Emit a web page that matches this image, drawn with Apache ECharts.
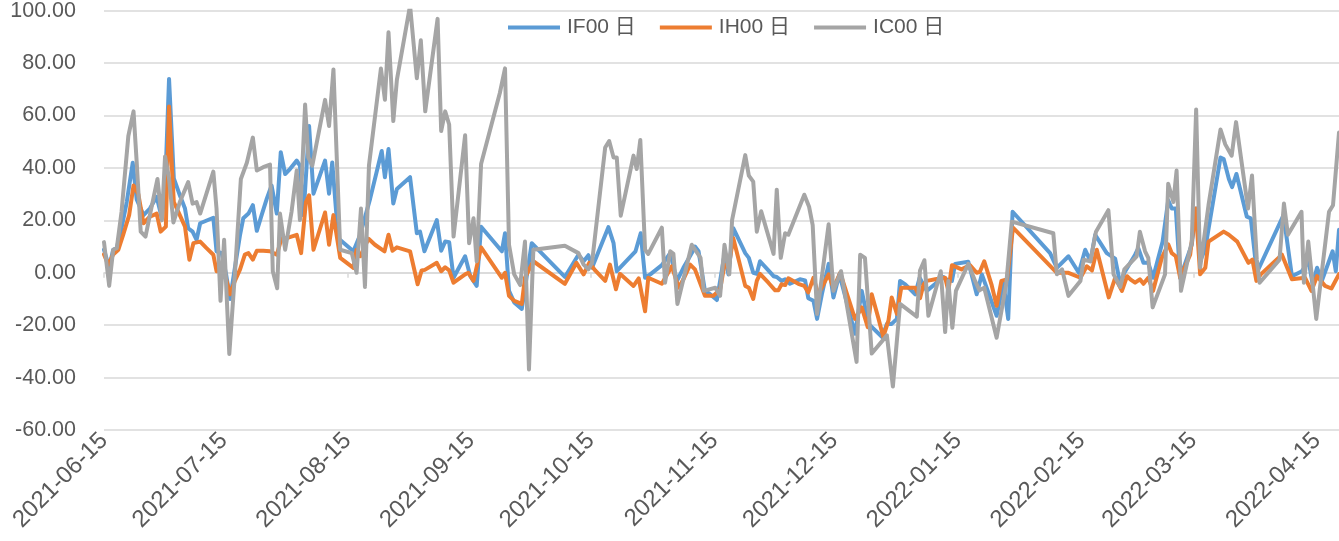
<!DOCTYPE html>
<html>
<head>
<meta charset="utf-8">
<script src="https://cdn.jsdelivr.net/npm/echarts@6/dist/echarts.min.js"></script>
<style>
html,body{margin:0;padding:0;background:#fff;}
#chart{width:1339px;height:541px;}
</style>
</head>
<body>
<div id="chart"></div>
<script>
// Start date of the axis; day offsets below are days since this date
const startDate = [2021, 5, 15];
const endOffset = 309.5;
const seriesNames = ['IF00 日', 'IH00 日', 'IC00 日'];
const tickMonths = [[2021,5],[2021,6],[2021,7],[2021,8],[2021,9],[2021,10],[2021,11],[2022,0],[2022,1],[2022,2],[2022,3]];
const yTicks = [-60, -40, -20, 0, 20, 40, 60, 80, 100];

const ifDays = [0,1.3,2.3,3.2,4.4,5.7,7.2,8.2,9.9,11.5,13.2,14.5,15.3,16.3,17,17.5,19,20.3,21.1,22.2,23.2,24.1,27.4,28.2,29.5,30.6,31.6,32.8,34.1,34.9,36.2,37.3,38.3,39.5,40.8,42,43.3,44.3,45.4,46.6,48.3,49.1,50,51.4,
52.5,55.4,56.4,57.2,58.7,62.5,64.2,66.7,69.6,70.4,71.3,72.5,73.4,76.7,78.4,79.2,80.3,83.4,84.5,85.5,86.5,87.6,90.5,91.8,93.4,94.5,99.7,100.5,101.5,102.8,
104.7,107.2,115.5,118.9,120.2,121.4,122.3,126.4,127.7,128.5,133.2,134.5,135.6,136.9,139.8,141.9,143.6,145.2,147.3,148.1,149,150.6,151.9,153.6,
155.5,156.5,157.7,160.7,161.6,162.7,163.6,164.4,166.5,167.8,168.6,169.8,170.7,171.9,174.4,175.7,176.5,177.8,178.7,179.9,181.6,182.8,184.3,188.2,189.9,191.6,195,196.2,197.4,198.7,199.5,200.8,203.3,204.4,
206.2,208.2,210.3,211.1,212.5,213.3,216.6,218.7,220,223.7,225.4,226.6,227.7,237.1,238.8,241.7,244.3,245.9,247.2,248.4,251.3,253.4,254.7,255.7,257.2,
258.4,259.2,260.5,261.7,262.9,265.3,266.7,267.6,268.6,269.7,272.6,273.7,274.7,276,279.8,280.6,281.9,282.7,283.8,286.4,287.4,288.9,295.6,297.7,300.2,301.9,302.9,304,305.2,307.9,308.7,309.5];
const ifValues = [8.8,2,8.8,9.4,17,27,42,28,22,24.5,29,20.8,32,74,52,36,29.6,24.5,17,15.7,12.6,18.9,21,8.2,7.5,-0.6,-10,1.9,14.5,20.8,22.6,25.8,16,22,28.3,33.3,22.6,46,37.7,39.6,42.8,40.9,22,56,
30.2,42.8,30.2,42.1,13.2,8.2,14.5,28.3,46.5,36.5,47.2,26.4,32,36.5,15.1,15.7,8.2,20.1,8.4,11.9,11.7,-1.9,6.3,-1.3,-5,17.6,8.2,15.1,-6.9,-11.3,
-13.8,11.3,-1.6,6.9,4.4,6.7,1.9,17.4,11.3,0.6,8.2,15.1,-1.9,-0.6,2.9,7.5,-3.1,1.9,7.5,10,8.2,-6.9,-8.2,-10.4,
6.9,-0.6,17,7.5,5.7,0,-0.4,4.4,0.9,-1.3,-1.6,-3.1,-2.5,-4.2,-2.5,-2.9,-9.7,-10.7,-17.6,-8.2,3.4,-9.4,-0.6,-23.3,-6.9,-19.5,-24.5,-19.5,-19.5,-17.6,-3.1,-4.4,-8.2,-1.9,
-6.9,-4.4,-1.6,-2.5,-3.1,3.4,4.2,-8.2,-0.6,-16.4,-3.8,-17.6,23.3,7.5,1.9,6.3,0,8.8,4.4,14.5,7.5,5.4,-4.4,0,3.8,
6.9,9.4,3.8,3.8,-1.9,11.9,27.7,24.5,24.5,-1.9,10.7,24.5,4.4,9.4,44,43.4,35.8,32.7,37.7,21.4,20.8,0,22,-1.3,0.6,4.4,-4.4,1.9,-3.1,8.2,0.6,16.4];

const ihDays = [0,1.1,2.3,3.6,4.8,6.3,7.4,8.6,9.9,11.5,13.2,14.2,15.5,16.3,17,17.5,19,20.3,21.4,22.4,24.1,25.7,27.4,28.2,29.5,30.6,31.6,32.8,34.1,35.3,36.2,37.3,38.3,39.9,41.6,43.3,44.5,45.8,48.3,49.4,50.6,51.4,
52.5,55.4,56.4,57.5,59.2,62.5,63.3,64.2,66.3,67.9,70.3,71.3,72.3,73.4,76.7,78.6,79.6,80.4,83.4,84.5,85.5,86.5,87.6,90.5,91.3,92.6,94.5,99.7,100.5,101.5,102.8,
104.7,105.5,107.6,115.5,118.4,120.2,121.6,123.1,125.6,126.8,128.3,129.3,132.7,134,135.6,136.4,139.8,142.3,144,145.2,146.9,148.1,150.6,152.7,
154.4,155.5,156.5,157.7,160.7,161.6,162.7,163.6,164.4,166.5,168.2,169,169.8,170.7,171.5,174,175.5,176.5,177.8,179,181.6,182.8,184.5,188.2,189.9,191.4,192.4,194,195.3,196.6,197.4,198.7,199.8,203.3,204.5,
205.4,206.2,208.3,210.8,211.6,212.5,214.9,217,218.7,219.5,220.6,222.4,223.7,224.9,226.3,227.8,238.8,241.7,244.7,246.3,247.6,248.8,251.8,253.4,255.1,256.4,257.2,
258.4,259.6,260.5,261.7,262.9,265.1,266.7,267.6,268.6,269.7,272.2,273.6,274.7,276,276.8,280.6,281.9,284,286.8,287.8,288.8,289.9,295.2,297.7,301,302.6,304,306,307.6,309.5];
const ihValues = [7,3,7,8.8,14.5,22,33.3,30,18.9,21.4,22.6,15.7,17.6,63.5,40.9,27,22,17.6,5,11.3,11.9,9.4,6.9,0.6,1.9,-2.5,-8.2,-3.1,1.3,6.9,7.5,5,8.4,8.4,8.2,6.9,13.2,13.2,14.5,7.5,27,29.6,
8.8,23,10.7,22,5.7,1.9,8.8,6.3,13,10.7,8.2,14.5,8.4,9.7,8.2,-4.4,0.9,1.1,3.8,0.6,2.1,0.9,-3.8,-0.6,0,-3.1,9.7,-1.9,0,-8.8,-10.7,
-11.9,-1.9,4.4,-4.2,3.8,-0.6,3.8,0.9,-3.1,3.1,-6.3,-0.4,-5,-2.1,-14.7,-1.9,-4.2,2.5,-5.7,-2.5,3.1,1.3,-8.8,-8.8,
-6.3,3.1,1.9,13.2,-5,-5.7,-10,-3.1,-0.4,-3.8,-6.7,-6.7,-4.4,-4.7,-2.1,-4.2,-5,-7.5,-1.9,-8.2,-0.6,-5.7,0,-17.6,-13.2,-20.8,-8.2,-17,-24.5,-18.2,-9.4,-15.7,-5.7,-5.7,-9.7,
-4.4,-3.1,-2.5,-1.9,-6.9,2.9,1.3,2.9,0,0.4,4.4,-4.4,-12.6,-3.1,-2.5,17.2,0,0,-1.9,2.5,0.9,8.8,-9.4,-1.9,-6.9,-1.3,-2.5,
-3.8,-2.5,-4.2,-1.9,-6.9,5.7,10.9,7.5,6.3,-1.9,6.9,24.5,-0.6,1.9,11.9,15.7,14.5,11.9,3.8,5,-3.1,-0.6,6.9,-2.5,-1.9,-6.9,-1.3,-5,-6,-0.5];

const icDays = [0,1.3,2.3,3.2,4.4,6.1,7.4,8.2,9.2,10.4,11.5,13.4,14.5,15.3,16.3,17.4,19,21.1,22.2,23.2,24.1,27.4,28.2,29.2,30.1,31.4,32.8,34.3,35.8,37.3,38.3,39.9,41.6,42.3,43.4,44.1,45.4,47,48.3,49.1,50.4,
51.2,52.2,55.4,56.4,57.5,59.2,62.1,63.3,64.4,65.4,66.4,69.4,70.4,71.3,72.5,73.4,76.7,78.4,79.4,80.5,83.6,84.5,85.5,86.5,87.6,90.5,91.5,92.6,93.4,94.5,99.2,100.5,101.5,102.8,
104.3,105.5,106.5,107.6,115.5,118.9,120.2,121.4,122.3,125.6,126.6,127.7,128.5,129.5,132.7,133.5,134.4,135.6,136.4,139.8,140.6,141.9,142.7,143.7,147.3,149.5,150.3,153.2,
154.4,155.5,156.7,157.4,160.7,161.6,162.7,163.6,164.7,167.8,168.6,169.6,170.7,171.5,175.5,176.7,177.6,178.7,181.6,182.8,184.7,188.6,189.5,190.7,192.4,196.2,197.7,199.5,203.7,204.5,205.6,
206.6,209.7,210.8,211.6,212.6,213.5,216.6,218.3,219.4,220.6,223.7,226.1,227.5,237.9,238.8,240.1,241.7,244.7,245.5,247.2,248.6,251.7,253,254.7,255.7,
258.8,259.6,260.9,261.7,262.8,265.9,266.7,268,268.8,269.9,272.6,273.7,274.7,276.8,279.8,281,282.6,283.7,286.7,287.7,288.9,289.6,294.6,295.7,296.7,300.1,300.7,301.8,303.8,307,308,309.5];
const icValues = [11.7,-5,8.8,9.4,23.3,52.2,61.6,42,15.7,13.8,22,35.8,20,44.4,36,19.2,27,34.6,26.4,27,22.6,38.6,24.5,-10.7,12.6,-31,-0.6,35.8,42,51.6,39,40.3,41.3,0.6,-5.9,22.6,8.8,23.3,39,20.1,64.2,
44,40.9,66,56,77.6,8.8,7.5,0,24.5,-5.4,40.9,78,66,91.8,57.9,73.6,102,74.2,88.7,61.6,96.9,54.1,61.6,56.6,13.8,52.5,11.3,20.8,4.4,41.5,68.6,78,10.7,-0.6,
-4.7,11.9,-36.9,8.8,10.3,7.5,3.1,1.3,3.8,47.8,50.3,44,44,21.8,44.7,39.6,50.7,8.8,7.2,17.2,-3.8,8.2,7.2,-11.9,10.7,5.7,-6.9,-5.7,
-8.8,10.7,-0.6,20.1,44.9,37.1,34.8,15.7,23.5,7.2,31.7,5.7,15.1,14.5,29.8,25.2,18.2,-15.7,18.5,-6.9,0.6,-34,6.9,5.7,-30.8,-23.9,-43.4,-11.9,-16.7,0.9,4.8,
-16.4,0.6,-22.6,-3.1,-21,-6.9,3.4,-3.1,-6.7,-5.7,-24.8,-4.4,19.5,15.1,-0.6,1.3,-8.8,-3.1,5,4.4,15.7,23.9,-0.6,-5.4,1.3,
6.3,15.7,8.2,5.7,-13.2,-0.6,34,27,39,-6.9,11.9,62.3,1.9,25.8,54.7,49,44.7,57.5,24.5,37.1,5,-3.8,5,26.4,14.5,23.3,-3.8,11.9,-17.6,23.3,25.8,53.5];

const DAY = 86400000;
const t0 = new Date(startDate[0], startDate[1], startDate[2]).getTime();
const toPairs = (days, vals) => days.map((d, i) => [t0 + d * DAY, vals[i]]);
const tickValues = tickMonths.map(m => new Date(m[0], m[1], 15).getTime());
const pad = n => (n < 10 ? '0' : '') + n;
const fmtDate = v => { const d = new Date(v); return d.getFullYear() + '-' + pad(d.getMonth() + 1) + '-' + pad(d.getDate()); };
const fontFam = '"Liberation Sans", "Noto Sans CJK SC", sans-serif';
const txt = '#595959';

const chart = echarts.init(document.getElementById('chart'), null, {renderer: 'canvas'});
const colors = ['#5B9BD5', '#ED7D31', '#A5A5A5'];
const datasets = [toPairs(ifDays, ifValues), toPairs(ihDays, ihValues), toPairs(icDays, icValues)];

chart.setOption({
  animation: false,
  backgroundColor: '#ffffff',
  color: colors,
  textStyle: {fontFamily: fontFam},
  legend: {
    top: 12, left: 503,
    itemWidth: 52, itemHeight: 4, itemGap: 24,
    icon: 'rect',
    textStyle: {fontSize: 21, color: txt, fontFamily: fontFam, padding: [0,0,0,2]},
    data: seriesNames
  },
  grid: {left: 104, right: 0, top: 6, bottom: 111, containLabel: false},
  xAxis: [{
    type: 'value',
    min: t0, max: t0 + endOffset * DAY,
    axisLine: {show: false, onZero: false},
    axisTick: {show: false},
    splitLine: {show: false},
    axisLabel: {
      customValues: tickValues,
      rotate: 45, margin: 7,
      fontSize: 24, color: txt, fontFamily: fontFam,
      hideOverlap: false,
      formatter: v => fmtDate(v)
    }
  }, {
    type: 'value',
    min: t0, max: t0 + endOffset * DAY,
    position: 'bottom',
    axisLine: {show: true, onZero: true, lineStyle: {color: '#d9d9d9', width: 1.5}},
    axisTick: {show: true, customValues: tickValues, length: 5, lineStyle: {color: '#d9d9d9', width: 1.5}},
    axisLabel: {show: false},
    splitLine: {show: false}
  }],
  yAxis: {
    type: 'value',
    min: yTicks[0], max: yTicks[yTicks.length - 1], interval: 20,
    axisLine: {show: false},
    axisTick: {show: false},
    splitLine: {lineStyle: {color: '#d9d9d9', width: 1.5}},
    axisLabel: {fontSize: 21.5, color: txt, fontFamily: fontFam, margin: 28,
      formatter: v => v.toFixed(2)}
  },
  series: seriesNames.map((n, i) => ({
    name: n, type: 'line', xAxisIndex: 0,
    data: datasets[i],
    symbol: 'none', showSymbol: false,
    lineStyle: {width: 4, color: colors[i], cap: 'round', join: 'round'},
    itemStyle: {color: colors[i]},
    z: 2 + i
  }))
});
</script>
</body>
</html>
